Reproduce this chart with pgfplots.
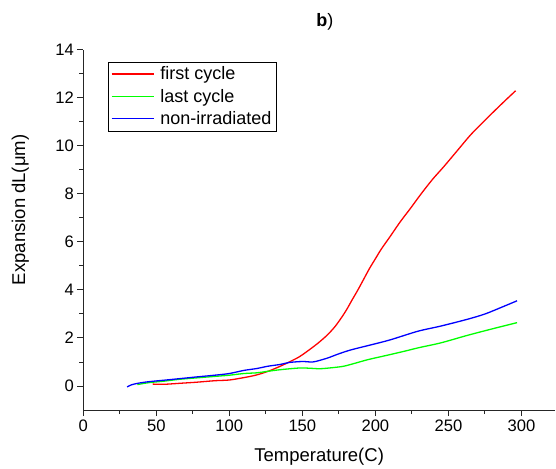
\documentclass[border=0pt]{standalone}
\usepackage{fontspec}
\setmainfont{Liberation Sans}
\usepackage{pgfplots}
\pgfplotsset{compat=1.18}
\definecolor{cred}{RGB}{255,0,0}
\definecolor{cgreen}{RGB}{0,255,0}
\definecolor{cblue}{RGB}{0,0,255}
\begin{document}
\begin{tikzpicture}
\begin{axis}[
  scale only axis, width=471.7pt, height=360pt,
  xmin=0, xmax=323, ymin=-1, ymax=14,
  axis x line*=bottom, axis y line*=left,
  axis line style={-, line width=1pt, black!85},
  xtick={0,50,...,300}, ytick={0,2,...,14},
  minor x tick num=1, minor y tick num=1,
  tick align=outside, major tick length=6pt, minor tick length=4pt,
  tick style={black!85, line width=1pt},
  ticklabel style={font=\fontsize{16.6}{18}\selectfont},
  /pgf/number format/assume math mode=true,
  xlabel={Temperature(C)}, ylabel={Expansion dL(μm)},
  every axis x label/.style={at={(axis description cs:0.5,0)}, yshift=-47pt, anchor=center, font=\fontsize{18.5}{20}\selectfont},
  every axis y label/.style={at={(axis description cs:0,0.556)}, xshift=-63pt, rotate=90, anchor=center, font=\fontsize{18.5}{20}\selectfont},
  title={\textbf{b})},
  every axis title/.style={at={(axis description cs:0.512,1)}, yshift=28pt, anchor=center, font=\fontsize{18}{20}\selectfont},
  legend style={at={(0.0517,0.9675)}, anchor=north west,
    font=\fontsize{18}{21}\selectfont, inner xsep=3pt, inner ysep=1pt},
  legend cell align=left,
  legend image code/.code={%
    \draw[#1, line width=1.5pt] (0pt,0pt) -- (42pt,0pt);
    \path (0pt,-10.5pt) (46pt,10.5pt);},
]
\addplot[cred, line width=1.3pt, smooth] coordinates {
(47.5,0.08)(55,0.07)(68,0.12)(78,0.16)(90,0.22)(100,0.25)(110,0.35)(118,0.45)
(126,0.6)(134,0.8)(141,1.0)(148,1.22)(155,1.52)(161,1.8)(167,2.12)(172,2.45)
(176,2.78)(180,3.15)(184,3.58)(188,4.0)(192,4.45)(196,4.9)(200,5.3)
(204,5.7)(210,6.22)(217,6.84)(224,7.4)(231,7.98)(239,8.6)(247,9.15)(256,9.8)
(265,10.45)(273,10.95)(281,11.43)(289,11.9)(296,12.3)};
\addlegendentry{first cycle}
\addplot[cgreen, line width=1.3pt, smooth] coordinates {
(37,0.06)(45,0.14)(55,0.2)(66,0.28)(80,0.35)(90,0.4)(100,0.45)(110,0.52)
(119,0.55)(126,0.61)(135,0.68)(148,0.75)(155,0.74)(162,0.72)(170,0.76)(178,0.82)
(185,0.93)(195,1.1)(208,1.28)(220,1.45)(230,1.6)(245,1.8)(263,2.11)(280,2.38)(297,2.64)};
\addlegendentry{last cycle}
\addplot[cblue, line width=1.3pt, smooth] coordinates {
(30,-0.04)(33,0.05)(38,0.12)(45,0.18)(55,0.24)(65,0.3)(78,0.38)(90,0.45)
(100,0.52)(110,0.65)(119,0.73)(126,0.82)(135,0.9)(141,0.98)(150,1.02)(157,1.0)
(162,1.07)(168,1.18)(174,1.32)(183,1.5)(196,1.7)(210,1.92)(229,2.28)(245,2.5)
(263,2.78)(275,3.0)(286,3.27)(297,3.55)};
\addlegendentry{non-irradiated}
\end{axis}
\pgfresetboundingbox
\path (-83.3pt,-58pt) rectangle (472.7pt,410pt);
\end{tikzpicture}
\end{document}
